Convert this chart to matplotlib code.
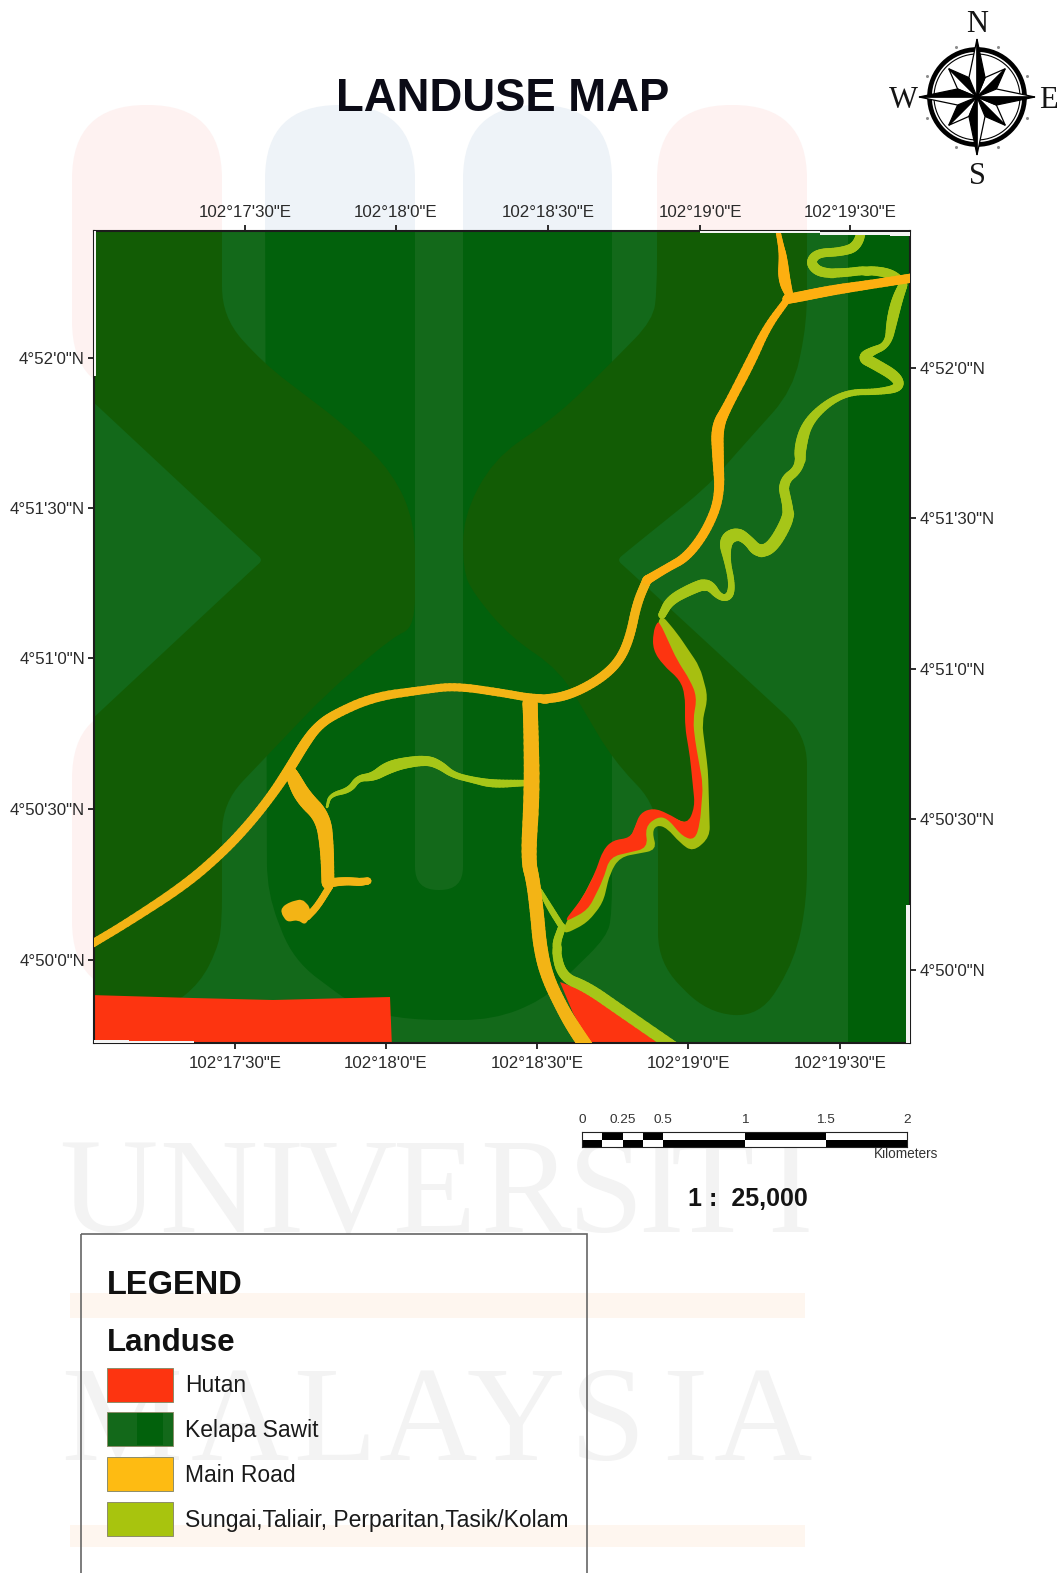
import numpy as np
import matplotlib
matplotlib.use("Agg")
import matplotlib.pyplot as plt
from matplotlib.patches import Polygon, Rectangle, FancyBboxPatch, Circle, PathPatch
from matplotlib.path import Path
from matplotlib.collections import LineCollection

W, H = 1064, 1573
SANS = "Liberation Sans"
SERIF = "Liberation Serif"

# ---- colours
c_light = "#13691a"
c_teal = "#02610c"
c_olive = "#125c05"
c_red = "#fd3410"
c_road = "#f3b415"
c_road2 = "#fdaf10"
c_river = "#a6c618"

# ---- map frame, in reference pixels
map_left, map_right, map_top, map_bottom = 94, 910, 231, 1043

top_ticks = [245, 396, 548, 700, 850]
top_labels = ["102°17'30\"E", "102°18'0\"E", "102°18'30\"E", "102°19'0\"E", "102°19'30\"E"]
bottom_ticks = [235, 386, 537, 688, 840]
bottom_labels = ["102°17'30\"E", "102°18'0\"E", "102°18'30\"E", "102°19'0\"E", "102°19'30\"E"]
left_ticks = [358, 508, 658, 809, 960]
right_ticks = [368, 518, 669, 819, 970]
lat_labels = ["4°52'0\"N", "4°51'30\"N", "4°51'0\"N", "4°50'30\"N", "4°50'0\"N"]

# ---- roads: x, y, width
road_main = [(90, 945, 7), (127, 923, 7), (185, 885, 8), (223, 852, 8), (250, 823, 8), (272, 795, 8),
             (290, 768, 9), (305, 743, 9), (317, 727, 8), (333, 715, 8), (373, 697, 8), (423, 690, 7),
             (455, 686, 7), (503, 693, 7), (530, 698, 7), (553, 699, 8), (577, 692, 8), (603, 677, 8),
             (620, 660, 8), (630, 637, 8), (637, 603, 8), (647, 580, 8)]
road_ne = [(647, 580, 8), (667, 568, 7), (687, 557, 8), (707, 530, 8), (720, 497, 8), (718, 457, 10),
           (717, 427, 11), (727, 407, 8), (750, 363, 9), (767, 327, 7), (787, 300, 6)]
road_e = [(787, 299, 8), (793, 298, 9), (833, 290, 9), (867, 285, 8), (912, 278, 8)]
road_n = [(777, 226, 4), (781, 246, 5), (783, 257, 7), (784, 280, 11), (790, 297, 6)]
road_s = [(530, 703, 13), (531, 730, 13), (532, 793, 14), (528, 860, 13), (533, 880, 12), (537, 913, 12),
          (540, 947, 12), (547, 977, 11), (563, 1010, 11), (575, 1030, 12), (590, 1052, 12)]
road_sw = [(291, 772, 9), (293, 777, 12), (303, 797, 15), (323, 817, 14), (327, 847, 12), (328, 883, 11)]
road_spur = [(328, 883, 8), (345, 881, 7), (360, 882, 7), (368, 881, 6)]
road_end = [(330, 886, 6), (317, 907, 6), (307, 917, 6)]
road_blob_x = [282, 290, 302, 310, 310, 305, 298, 287, 281]
road_blob_y = [907, 902, 899, 907, 917, 925, 920, 922, 913]

# ---- rivers: x, y, width
river_mid = [(327, 807, 2), (330, 795, 3), (350, 790, 5), (358, 778, 5), (373, 777, 7), (387, 768, 10),
             (403, 763, 9), (427, 760, 8), (440, 765, 7), (453, 775, 5), (473, 780, 5), (493, 784, 7),
             (525, 783, 5)]
river_east = [(662, 615, 6), (670, 600, 8), (693, 588, 9), (708, 583, 9), (720, 598, 5), (730, 597, 6),
              (732, 583, 5), (727, 560, 5), (725, 540, 11), (737, 533, 10), (748, 540, 8), (758, 552, 10),
              (772, 548, 10), (788, 520, 10), (788, 507, 8), (782, 482, 8), (800, 468, 7), (800, 447, 10),
              (807, 423, 8), (827, 403, 6), (850, 392, 5), (877, 392, 5), (900, 388, 7), (897, 377, 9),
              (873, 363, 9), (863, 358, 9), (870, 352, 7), (888, 345, 5), (892, 320, 9), (897, 300, 9),
              (903, 285, 7)]
river_north = [(863, 226, 7), (857, 247, 8), (840, 252, 7), (817, 253, 7), (810, 263, 8), (820, 273, 8),
               (843, 273, 7), (867, 270, 7), (890, 273, 8), (903, 283, 7)]
river_south = [(562, 927, 6), (555, 947, 7), (562, 977, 8), (587, 987, 9), (620, 1010, 9), (678, 1050, 9)]
river_branch = [(540, 890, 3), (550, 908, 5), (562, 927, 5)]

# river bank under the forest strip
river_poly_x = [660, 677, 700, 708, 702, 708, 710, 693, 680, 667, 657, 652, 657, 620, 610, 603, 587, 563,
                565, 583, 595, 613, 630, 640, 653, 667, 690, 697, 692, 688, 688, 683, 668, 656]
river_poly_y = [613, 633, 667, 697, 723, 770, 837, 852, 843, 828, 825, 832, 850, 857, 873, 903, 923, 935,
                923, 897, 873, 842, 840, 815, 810, 815, 825, 800, 760, 727, 695, 680, 665, 640]

# ---- forest (Hutan)
hutan_sw_x = [90, 193, 273, 390, 392, 90]
hutan_sw_y = [995, 998, 1000, 997, 1048, 1048]
hutan_s_x = [560, 587, 617, 665, 592, 573]
hutan_s_y = [982, 992, 1013, 1048, 1048, 1013]
hutan_strip_x = [657, 653, 653, 663, 680, 685, 685, 690, 693, 695, 687, 667, 653, 640, 635, 630, 613, 603,
                 595, 583, 563, 588, 603, 610, 648, 645, 657, 667, 683, 695, 700, 703, 695, 693, 697, 690, 677, 660]
hutan_strip_y = [622, 633, 650, 665, 680, 695, 727, 757, 787, 807, 825, 813, 808, 813, 827, 838, 840, 850,
                 873, 897, 923, 910, 880, 857, 848, 827, 817, 818, 837, 840, 823, 785, 740, 720, 697, 680, 660, 623]

# ---- watermark shapes over the map (they run past the frame and get clipped)
teal_x = [265, 612, 612, 607, 570, 543, 493, 410, 360, 293, 267]
teal_y = [190, 190, 913, 937, 973, 1000, 1020, 1020, 1010, 960, 893]
olive_a_x = [60, 222, 222, 263, 347, 393, 415, 415, 393, 327, 263, 222, 222, 217, 200, 170, 60]
olive_a_y = [190, 190, 317, 363, 427, 473, 523, 627, 637, 693, 760, 803, 925, 950, 983, 1007, 1007]
light_tri_x = [60, 255, 263, 255, 60]
light_tri_y = [371, 553, 560, 567, 749]
olive_b_x = [463, 493, 560, 617, 653, 657, 657, 807, 807, 793, 733, 707, 625, 617, 625, 807, 807, 795, 760,
             707, 658, 658, 613, 560, 510, 473, 463]
olive_b_y = [517, 460, 413, 357, 320, 290, 190, 190, 323, 390, 457, 487, 553, 560, 567, 735, 900, 960, 1017,
             1013, 963, 807, 760, 670, 637, 593, 570]

# white slivers between map and frame
sliver_x = [94, 700, 735, 820, 890, 906, 94, 94]
sliver_w = [2, 35, 85, 70, 20, 4, 35, 100]
sliver_y = [231, 231, 231, 232, 232, 905, 1040, 1041]
sliver_h = [145, 2, 2, 3, 4, 138, 3, 2]

# ---- watermark lettering, letter centres
uni_letters = list("UNIVERSITI")
uni_centres = [108, 208, 281, 348, 434, 525, 606, 661, 712, 790]
mal_letters = list("MALAYSIA")
mal_centres = [122, 240, 335, 428, 516, 608, 685, 763]

# ---- scale bar
scale_ticks = [0, 0.25, 0.5, 1, 1.5, 2]
scale_tick_labels = ["0", "0.25", "0.5", "1", "1.5", "2"]
scale_edges = [0, 0.125, 0.25, 0.375, 0.5, 1, 1.5, 2]

# ---- legend
legend_names = ["Hutan", "Kelapa Sawit", "Main Road", "Sungai,Taliair, Perparitan,Tasik/Kolam"]
legend_colors = [c_red, c_light, "#febb12", "#a8c40e"]
legend_top = [1368, 1412, 1457, 1502]

# ---- compass
cx, cy = 977, 97
compass_angles = [0, 45, 90, 135, 180, 225, 270, 315]
compass_reach = [58, 40, 58, 40, 58, 40, 58, 40]
compass_marks = [22.5, 67.5, 112.5, 157.5, 202.5, 247.5, 292.5, 337.5]

plt.rcParams["font.family"] = SANS
fig = plt.figure(figsize=(W / 100, H / 100), dpi=100, facecolor="white")


def place(left, top, right, bottom, **kw):
    return fig.add_axes([left / W, 1 - bottom / H, (right - left) / W, (bottom - top) / H], **kw)


def soften(pts, rounds=3):
    # corner cutting so the digitised lines don't look like polylines
    pts = np.array(pts, dtype=float)
    for _ in range(rounds):
        a = pts[:-1] * 0.75 + pts[1:] * 0.25
        b = pts[:-1] * 0.25 + pts[1:] * 0.75
        mid = np.empty((len(a) * 2, pts.shape[1]))
        mid[0::2] = a
        mid[1::2] = b
        pts = np.vstack([pts[:1], mid, pts[-1:]])
    return pts


def strokes(ax, pts, color, zorder, gain=1.15):
    pts = soften(pts)
    segs = [pts[i:i + 2, :2] for i in range(len(pts) - 1)]
    widths = (pts[:-1, 2] + pts[1:, 2]) / 2 * 0.72 * gain
    ax.add_collection(LineCollection(segs, colors=color, linewidths=widths, capstyle="round",
                                     joinstyle="round", zorder=zorder))


def rounded(xs, ys, r):
    # closed polygon with each corner replaced by a quadratic curve
    p = np.c_[xs, ys].astype(float)
    n = len(p)
    verts, codes = [], []
    for i in range(n):
        c, prev, nxt = p[i], p[i - 1], p[(i + 1) % n]
        d0, d1 = np.linalg.norm(prev - c), np.linalg.norm(nxt - c)
        a = c + (prev - c) * min(r, d0 / 2) / d0
        b = c + (nxt - c) * min(r, d1 / 2) / d1
        verts += [a, c, b]
        codes += [Path.MOVETO if i == 0 else Path.LINETO, Path.CURVE3, Path.CURVE3]
    verts.append(verts[0])
    codes.append(Path.CLOSEPOLY)
    return Path(verts, codes)


# page layer: watermark and all the free text
page = fig.add_axes([0, 0, 1, 1], zorder=0)
page.set_xlim(0, W)
page.set_ylim(H, 0)
page.axis("off")

for x0, x1, y0, y1, col in [(72, 222, 105, 395, "#fef2f1"), (72, 222, 705, 995, "#fef2f1"),
                            (265, 415, 105, 400, "#eef3f8"), (463, 612, 105, 400, "#eef3f8"),
                            (657, 807, 105, 400, "#fef2f1")]:
    page.add_patch(FancyBboxPatch((x0, y0), x1 - x0, y1 - y0, boxstyle="round,pad=0,rounding_size=74",
                                  fc=col, ec="none", zorder=1))
page.add_patch(Rectangle((70, 1293), 735, 25, fc="#fef6ef", ec="none", zorder=1))
page.add_patch(Rectangle((70, 1525), 735, 22, fc="#fef6ef", ec="none", zorder=1))
for ch, x in zip(uni_letters, uni_centres):
    page.text(x, 1232, ch, family=SERIF, fontsize=98, color="#f3f3f3", ha="center", va="baseline", zorder=1)
for ch, x in zip(mal_letters, mal_centres):
    page.text(x, 1460, ch, family=SERIF, fontsize=98, color="#f3f3f3", ha="center", va="baseline", zorder=1)

page.text(503, 99, "LANDUSE MAP", fontsize=32.8, fontweight="bold", color="#0b0b16", ha="center", va="center", zorder=3)
page.text(688, 1199, "1 :  25,000", fontsize=18, fontweight="bold", color="#141414", ha="left", va="center", zorder=3)
page.text(938, 1154, "Kilometers", fontsize=9.8, color="#333333", ha="right", va="center", zorder=3)

# compass
page.add_patch(Circle((cx, cy), 47.5, fc="none", ec="black", lw=3.4, zorder=2))
page.add_patch(Circle((cx, cy), 43, fc="none", ec="black", lw=0.8, zorder=2))
for ang, r in zip(compass_angles, compass_reach):
    a = np.deg2rad(ang)
    tip = (cx + r * np.sin(a), cy - r * np.cos(a))
    for side, col in [(-22.5, "white"), (22.5, "black")]:
        b = np.deg2rad(ang + side)
        waist = (cx + 21 * np.sin(b), cy - 21 * np.cos(b))
        page.add_patch(Polygon([(cx, cy), tip, waist], fc=col, ec="black", lw=0.9,
                               zorder=3 if ang % 90 == 0 else 2.5))
mark_rad = np.deg2rad(compass_marks)
page.plot(cx + 54 * np.sin(mark_rad), cy - 54 * np.cos(mark_rad), ls="none", marker="o", ms=2.2,
          color="#8c8c8c", mew=0, zorder=2)
for letter, lx, ly in [("N", 977, 25), ("S", 977, 176), ("W", 903, 100), ("E", 1048, 101)]:
    page.text(lx, ly, letter, family=SERIF, fontsize=22, color="#151515", ha="center", va="center", zorder=3)

# legend
page.add_patch(Rectangle((81, 1234), 506, 360, fc="none", ec="#666666", lw=1.2, zorder=2))
page.text(107, 1286, "LEGEND", fontsize=23.5, fontweight="bold", color="#111111", va="center", zorder=3)
page.text(107, 1343, "Landuse", fontsize=22.5, fontweight="bold", color="#111111", va="center", zorder=3)
for name, col, top in zip(legend_names, legend_colors, legend_top):
    page.add_patch(Rectangle((107, top), 66, 34, fc=col, ec="#8d8d6a", lw=0.7, zorder=2))
    page.text(185, top + 18, name, fontsize=16.5, color="#1a1a1a", va="center", zorder=3)
page.add_patch(Rectangle((137, legend_top[1] + 1), 26, 32, fc=c_teal, ec="none", zorder=2.1))

# map layer
ax = place(map_left, map_top, map_right, map_bottom, zorder=2)
ax.set_xlim(map_left, map_right)
ax.set_ylim(map_bottom, map_top)
ax.set_facecolor(c_light)

ax.add_patch(Rectangle((848, map_top), 62, 812, fc="#005f08", ec="none", zorder=1))
ax.add_patch(PathPatch(rounded(teal_x, teal_y, 30), fc=c_teal, ec="none", zorder=1))
ax.add_patch(PathPatch(rounded(olive_a_x, olive_a_y, 30), fc=c_olive, ec="none", zorder=1.1))
ax.add_patch(PathPatch(rounded(olive_b_x, olive_b_y, 30), fc=c_olive, ec="none", zorder=1.1))
ax.add_patch(PathPatch(rounded(light_tri_x, light_tri_y, 30), fc=c_light, ec="none", zorder=1.2))
ax.add_patch(FancyBboxPatch((415, 150), 48, 740, boxstyle="round,pad=0,rounding_size=23",
                            fc=c_light, ec="none", zorder=1.2))

ax.fill(hutan_sw_x, hutan_sw_y, color=c_red, lw=0, zorder=2)
ax.fill(hutan_s_x, hutan_s_y, color=c_red, lw=0, zorder=2)
ax.add_patch(PathPatch(rounded(river_poly_x, river_poly_y, 10), fc="#a7bf10", ec="none", zorder=2))
ax.add_patch(PathPatch(rounded(hutan_strip_x, hutan_strip_y, 10), fc=c_red, ec="none", zorder=2.1))
for r in [river_mid, river_east, river_north, river_south, river_branch]:
    strokes(ax, r, c_river, 2.2, gain=1.25)
for r in [road_main, road_s, road_sw, road_spur, road_end]:
    strokes(ax, r, c_road, 3)
for r in [road_ne, road_e, road_n]:
    strokes(ax, r, c_road2, 3)
ax.add_patch(PathPatch(rounded(road_blob_x, road_blob_y, 4), fc=c_road, ec="none", zorder=3))

for x, w, y, h in zip(sliver_x, sliver_w, sliver_y, sliver_h):
    ax.add_patch(Rectangle((x, y), w, h, fc="#f4f4f4", ec="none", zorder=4))

for s in ax.spines.values():
    s.set_linewidth(1.5)
    s.set_color("#1c1c1c")
tick_kw = dict(length=4.5, width=1.3, color="#1c1c1c", labelsize=12.2, labelcolor="#2a2a2a")
ax.set_xticks(bottom_ticks, bottom_labels)
ax.set_yticks(left_ticks, lat_labels)
ax.tick_params(axis="x", pad=5, **tick_kw)
ax.tick_params(axis="y", pad=2, **tick_kw)
top_ax = ax.secondary_xaxis("top")
top_ax.set_xticks(top_ticks, top_labels)
top_ax.tick_params(pad=3.7, **tick_kw)
right_ax = ax.secondary_yaxis("right")
right_ax.set_yticks(right_ticks, lat_labels)
right_ax.tick_params(pad=2.7, **tick_kw)
for sp in list(top_ax.spines.values()) + list(right_ax.spines.values()):
    sp.set_visible(False)

# scale bar
sb = place(582, 1132, 907, 1147, zorder=2)
sb.set_xlim(0, 2)
sb.set_ylim(0, 2)
for i in range(len(scale_edges) - 1):
    x0, x1 = scale_edges[i], scale_edges[i + 1]
    sb.barh(1.5, x1 - x0, height=1, left=x0, color="white" if i % 2 == 0 else "black", lw=0)
    sb.barh(0.5, x1 - x0, height=1, left=x0, color="black" if i % 2 == 0 else "white", lw=0)
for s in sb.spines.values():
    s.set_linewidth(0.8)
    s.set_color("#222222")
sb.set_yticks([])
sb.xaxis.tick_top()
sb.set_xticks(scale_ticks, scale_tick_labels)
sb.tick_params(axis="x", length=0, pad=4, labelsize=9.7, labelcolor="#333333")

fig.savefig("out.png", dpi=100)
